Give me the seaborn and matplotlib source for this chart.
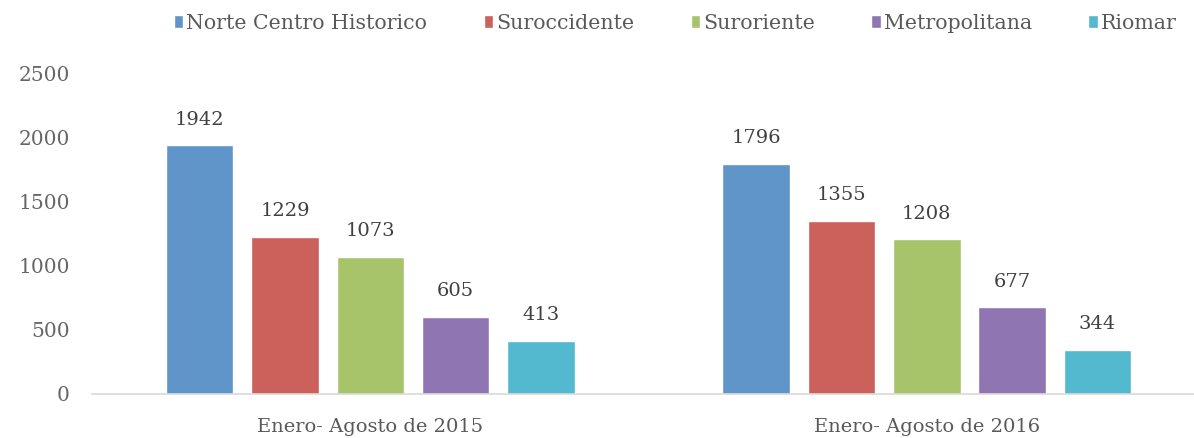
import matplotlib
matplotlib.use("Agg")
import matplotlib.pyplot as plt
import pandas as pd
import seaborn as sns

# datos
periodos = ["Enero- Agosto de 2015", "Enero- Agosto de 2016"]
zonas = ["Norte Centro Historico", "Suroccidente", "Suroriente", "Metropolitana", "Riomar"]
valores_2015 = [1942, 1229, 1073, 605, 413]
valores_2016 = [1796, 1355, 1208, 677, 344]
colores = ["#5F95C9", "#CC605A", "#A8C46A", "#8F76B3", "#52B9CF"]

df = pd.DataFrame({
    "periodo": [periodos[0]] * 5 + [periodos[1]] * 5,
    "zona": zonas + zonas,
    "valor": valores_2015 + valores_2016,
})

sns.set_style("white")
plt.rcParams["font.family"] = ["DejaVu Serif"]

fig = plt.figure(figsize=(11.94, 4.38), dpi=100)
ax = fig.add_axes([0.0771, 0.1005, 0.9322, 0.7306])

sns.barplot(
    data=df, x="periodo", y="valor", hue="zona", hue_order=zonas,
    palette=colores, width=0.767, gap=0.21, saturation=1, ax=ax,
)

# etiquetas de valor sobre cada barra
for cont in ax.containers:
    ax.bar_label(cont, padding=12, fontsize=14, color="#404040")

ax.set_ylim(0, 2500)
ax.set_xlim(-0.5, 1.5)
ax.set_yticks([0, 500, 1000, 1500, 2000, 2500])
ax.set_xlabel("")
ax.set_ylabel("")
ax.tick_params(axis="y", length=0, pad=16, labelsize=14.5, labelcolor="#666666")
ax.tick_params(axis="x", length=0, pad=17, labelsize=14, labelcolor="#595959")

for s in ["top", "right", "left"]:
    ax.spines[s].set_visible(False)
ax.spines["bottom"].set_color("#D9D9D9")
ax.spines["bottom"].set_linewidth(1.2)

handles, labels = ax.get_legend_handles_labels()
ax.legend(
    handles, labels, ncol=5, loc="center", bbox_to_anchor=(0.524, 1.158),
    frameon=False, fontsize=14.8, labelcolor="#595959",
    handlelength=0.45, handleheight=0.6, handletextpad=0.15, columnspacing=2.75,
)

plt.savefig("out.png", dpi=100)
